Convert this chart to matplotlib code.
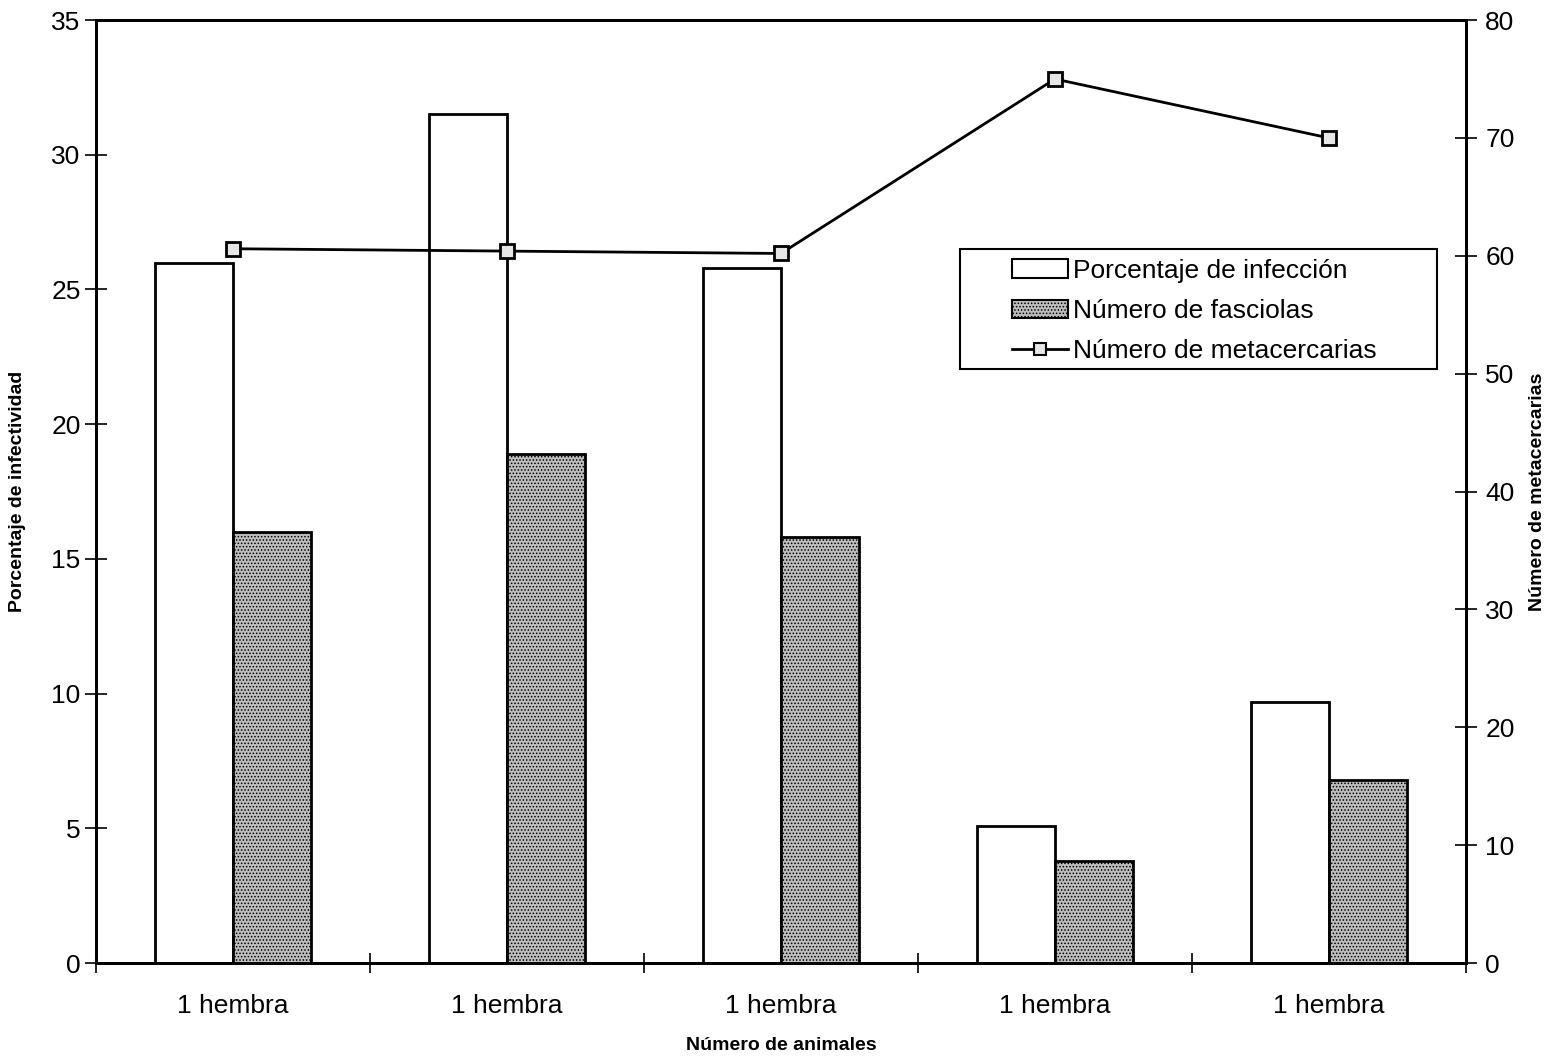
import matplotlib
matplotlib.use("Agg")
import matplotlib.pyplot as plt
import numpy as np
from matplotlib.patches import Patch, Rectangle
from matplotlib.lines import Line2D

plt.rcParams['font.family'] = ['Liberation Sans', 'DejaVu Sans']
plt.rcParams['hatch.color'] = '#505050'
plt.rcParams['hatch.linewidth'] = 0.7

# Datos por animal
animales = ["1 hembra", "1 hembra", "1 hembra", "1 hembra", "1 hembra"]
porcentaje_infeccion = [26.0, 31.5, 25.8, 5.1, 9.7]
numero_fasciolas = [16.0, 18.9, 15.8, 3.8, 6.8]
numero_metacercarias = [60.6, 60.4, 60.2, 75.0, 70.0]

x = np.arange(len(animales))
ancho = 0.285
gris = '#bdbdbd'

fig = plt.figure(figsize=(15.58, 10.56), dpi=100)
ax = fig.add_axes([0.0616, 0.088, 0.8793, 0.893])

ax.bar(x - ancho / 2, porcentaje_infeccion, width=ancho, color='white',
       edgecolor='black', linewidth=2, zorder=2)
ax.bar(x + ancho / 2, numero_fasciolas, width=ancho, color=gris,
       edgecolor='black', linewidth=2, hatch='.....', zorder=2)

ax.set_xlim(-0.5, len(animales) - 0.5)
ax.set_ylim(0, 35)
ax.set_yticks(np.arange(0, 36, 5))
ax.set_xticks(x)
ax.set_xticklabels(animales, fontsize=19)
ax.set_xticks(np.arange(-0.5, len(animales), 1), minor=True)
ax.tick_params(axis='x', which='major', length=0, pad=22)
ax.tick_params(axis='x', which='minor', direction='inout', length=14, width=1.2)
ax.tick_params(axis='y', direction='inout', length=16, width=1.2, labelsize=19, pad=3)
for s in ax.spines.values():
    s.set_linewidth(2)

ax.set_ylabel("Porcentaje de infectividad", fontsize=14, fontweight='bold', labelpad=18)
ax.set_xlabel("Número de animales", fontsize=14, fontweight='bold', labelpad=14)

# Eje secundario para metacercarias
ax2 = ax.twinx()
ax2.plot(x, numero_metacercarias, color='black', linewidth=2,
         marker='s', markersize=10, markerfacecolor='#e6e6e6',
         markeredgecolor='black', markeredgewidth=2, zorder=3)
ax2.set_ylim(0, 80)
ax2.set_yticks(np.arange(0, 81, 10))
ax2.tick_params(axis='y', direction='inout', length=16, width=1.2, labelsize=19, pad=6)
ax2.set_ylabel("Número de metacercarias", fontsize=14, fontweight='bold', labelpad=10)
for s in ax2.spines.values():
    s.set_linewidth(2)

# Recuadro de la leyenda
ax2.add_patch(Rectangle((0.631, 0.630), 0.348, 0.127, transform=ax2.transAxes,
                        facecolor='white', edgecolor='black', linewidth=1.5, zorder=4))

handles = [
    Patch(facecolor='white', edgecolor='black', linewidth=1.5),
    Patch(facecolor=gris, edgecolor='black', linewidth=1.5, hatch='.....'),
    Line2D([0], [0], color='black', linewidth=2, marker='s', markersize=9,
           markerfacecolor='#e6e6e6', markeredgecolor='black', markeredgewidth=1.5),
]
labels = ["Porcentaje de infección", "Número de fasciolas", "Número de metacercarias"]
leg = ax2.legend(handles, labels, loc='upper left', bbox_to_anchor=(0.669, 0.747),
                 fontsize=19, frameon=False, handlelength=2.1, handletextpad=0.2,
                 borderpad=0, labelspacing=0.62, borderaxespad=0)
leg.set_zorder(5)

fig.savefig("out.png", dpi=100)
